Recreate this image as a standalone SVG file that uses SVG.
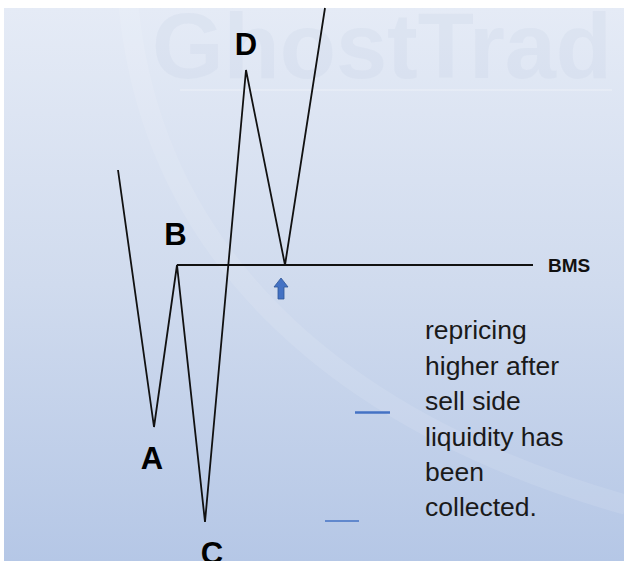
<svg xmlns="http://www.w3.org/2000/svg" width="626" height="561" viewBox="0 0 626 561">
  <defs>
    <linearGradient id="bg" x1="0" y1="0" x2="0" y2="1">
      <stop offset="0" stop-color="#e5ebf6"/>
      <stop offset="0.5" stop-color="#d0dbee"/>
      <stop offset="1" stop-color="#b5c7e6"/>
    </linearGradient>
  </defs>
  <style>
    .lbl { font-family: "Liberation Sans", Arial, sans-serif; font-weight: bold; font-size: 31px; fill: #000; text-anchor: middle; }
    .bms { font-family: "Liberation Sans", Arial, sans-serif; font-weight: bold; font-size: 19px; fill: #111; }
    .note { font-family: "Liberation Sans", Arial, sans-serif; font-size: 26.5px; fill: #1a1a1a; }
    .price { fill: none; stroke: #111; stroke-width: 1.8; stroke-linejoin: miter; }
    .dash { stroke: #4472c4; }
    .wm { font-family: "Liberation Sans", Arial, sans-serif; font-weight: bold; font-size: 92px; fill: #c9d3e6; fill-opacity: 0.28; }
  </style>
  <rect x="0" y="0" width="626" height="561" fill="#ffffff"/>
  <rect x="4" y="8" width="620" height="553" fill="url(#bg)"/>
  <g id="watermark">
    <path d="M128 0 C 150 250, 330 420, 626 505" fill="none" stroke="#ffffff" stroke-opacity="0.1" stroke-width="20"/>
    <text class="wm" x="152" y="78">GhostTrad</text>
    <line x1="180" y1="90" x2="612" y2="90" stroke="#ffffff" stroke-opacity="0.3" stroke-width="1.5"/>
  </g>
  <g id="connectors">
    <polyline class="price" points="118,170 154,427 177,265 205,522 246,70 285,265 325,8"/>
    <line class="price" x1="177" y1="265" x2="533" y2="265"/>
    <line class="dash" x1="355" y1="412.5" x2="390" y2="412.5" stroke-width="2.5"/>
    <line class="dash" x1="325" y1="521" x2="359" y2="521" stroke-width="1.6"/>
  </g>
  <g id="node-A"><text class="lbl" x="152" y="469">A</text></g>
  <g id="node-B"><text class="lbl" x="175.5" y="245">B</text></g>
  <g id="node-C"><text class="lbl" x="212" y="564">C</text></g>
  <g id="node-D"><text class="lbl" x="246" y="55">D</text></g>
  <g id="node-BMS"><text class="bms" x="548" y="272">BMS</text></g>
  <g id="arrow-up">
    <path d="M281 278 L288 287 L284 287 L284 299 L278 299 L278 287 L274 287 Z" fill="#4472c4" stroke="#2f5597" stroke-width="0.8"/>
  </g>
  <g id="note">
    <text class="note" x="425" y="339">repricing</text>
    <text class="note" x="425" y="374.5">higher after</text>
    <text class="note" x="425" y="410">sell side</text>
    <text class="note" x="425" y="445.5">liquidity has</text>
    <text class="note" x="425" y="481">been</text>
    <text class="note" x="425" y="516">collected.</text>
  </g>
</svg>
